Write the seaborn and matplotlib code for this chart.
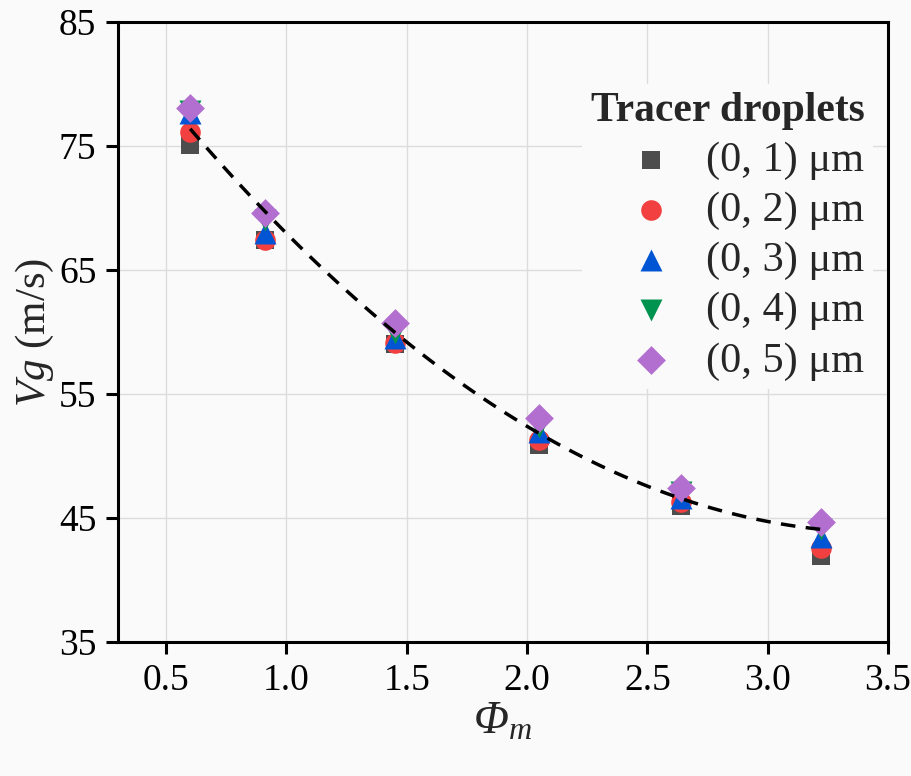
import matplotlib
matplotlib.use("Agg")
import matplotlib.pyplot as plt
import seaborn as sns
import numpy as np
import pandas as pd

# ---------------- data ----------------
phi_m = [0.60, 0.91, 1.45, 2.05, 2.64, 3.22]
vg_0_1 = [75.1, 67.4, 59.0, 50.9, 46.0, 41.9]
vg_0_2 = [76.1, 67.4, 59.1, 51.3, 46.3, 42.6]
vg_0_3 = [77.7, 68.0, 59.5, 51.9, 46.6, 43.5]
vg_0_4 = [77.8, 69.0, 59.9, 52.3, 47.1, 44.1]
vg_0_5 = [78.1, 69.6, 60.7, 53.1, 47.4, 44.7]
series_labels = ["(0, 1) \u03bcm", "(0, 2) \u03bcm", "(0, 3) \u03bcm",
                 "(0, 4) \u03bcm", "(0, 5) \u03bcm"]

# dashed trend curve
trend_x = [0.60, 1.00, 1.25, 1.46, 1.64, 2.00, 2.30, 2.50, 2.70, 3.00, 3.22]
trend_y = [76.4, 68.1, 63.0, 60.2, 56.8, 52.3, 49.4, 47.7, 46.2, 44.6, 44.1]

x_ticks = [0.5, 1.0, 1.5, 2.0, 2.5, 3.0, 3.5]
y_ticks = [35, 45, 55, 65, 75, 85]

# ---------------- style ----------------
BG = "#fafafa"
sns.set_theme(style="ticks")
plt.rcParams["font.family"] = ["Liberation Serif", "DejaVu Serif"]
plt.rcParams["mathtext.fontset"] = "custom"
# math is used only for the italic axis symbols, so all math is italic
plt.rcParams["mathtext.rm"] = "Liberation Serif:italic"
plt.rcParams["mathtext.it"] = "Liberation Serif:italic"
plt.rcParams["mathtext.bf"] = "Liberation Serif:bold"

colors = ["#4d4d4d", "#f23f3f", "#0055d4", "#00924f", "#b36fd0"]
markers = ["s", "o", "^", "v", "D"]
sizes = [175, 220, 250, 250, 215]

fig = plt.figure(figsize=(9.11, 7.76), dpi=100, facecolor=BG)
ax = fig.add_axes([0.1295, 0.1727, 0.8453, 0.7989])
ax.set_facecolor(BG)

all_series = [vg_0_1, vg_0_2, vg_0_3, vg_0_4, vg_0_5]
for i, (vals, lab) in enumerate(zip(all_series, series_labels)):
    df = pd.DataFrame({"phi": phi_m, "vg": vals})
    sns.scatterplot(data=df, x="phi", y="vg", ax=ax, color=colors[i],
                    marker=markers[i], s=sizes[i], linewidth=0,
                    label=lab, zorder=3 + i)

tdf = pd.DataFrame({"x": trend_x, "y": trend_y})
sns.regplot(data=tdf, x="x", y="y", order=2, ci=None, scatter=False, ax=ax,
            truncate=True,
            line_kws=dict(color="black", linestyle=(0, (4.2, 3.0)),
                          linewidth=2.5, zorder=10))

ax.set_xlim(0.3, 3.5)
ax.set_ylim(35, 85)
ax.set_xticks(x_ticks)
ax.set_yticks(y_ticks)
ax.set_xticklabels([f"{t:.1f}" for t in x_ticks])
ax.set_yticklabels([str(t) for t in y_ticks])
ax.grid(True, color="#dcdcdc", linewidth=1.0, zorder=0)
ax.set_axisbelow(True)

for sp in ax.spines.values():
    sp.set_visible(True)
    sp.set_color("black")
    sp.set_linewidth(2.2)

ax.tick_params(axis="both", direction="out", length=8.5, width=2.2,
               labelsize=27, colors="black", pad=7)
ax.tick_params(top=False, right=False)

ax.set_xlabel("$\u03a6_{m}$", fontsize=33, labelpad=2)
ax.set_ylabel("$Vg$ (m/s)", fontsize=31, labelpad=2)

leg = ax.legend(title="Tracer droplets", loc="upper right",
                bbox_to_anchor=(1.008, 0.935), fontsize=30.5,
                title_fontproperties={"weight": "bold", "size": 30},
                frameon=True, facecolor=BG, edgecolor="none", framealpha=1,
                handletextpad=0.55, labelspacing=0.27, borderpad=0.2,
                handlelength=1.5, alignment="right")
leg.get_frame().set_linewidth(0)
leg.set_zorder(20)

fig.savefig("out.png", dpi=100, facecolor=BG)
